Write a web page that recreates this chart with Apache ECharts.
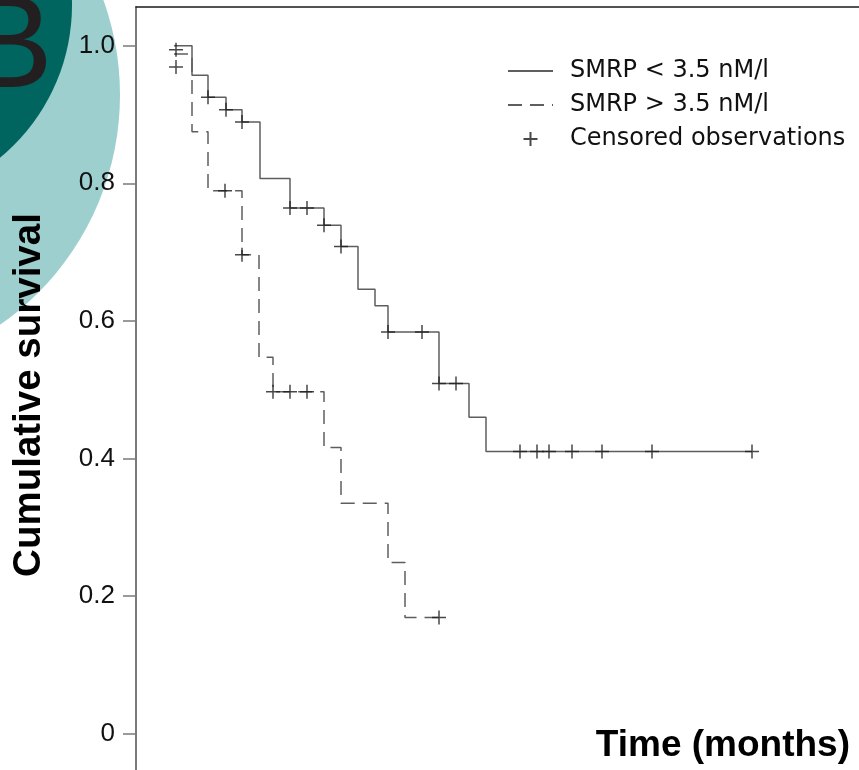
<!DOCTYPE html>
<html>
<head>
<meta charset="utf-8">
<script src="https://cdn.jsdelivr.net/npm/echarts@6/dist/echarts.min.js"></script>
<style>
  html, body { margin: 0; padding: 0; background: #ffffff; }
  #chart { width: 859px; height: 770px; }
</style>
</head>
<body>
<div id="chart"></div>
<script>
// Kaplan-Meier survival estimates by SMRP level (time in months)
const lowTime  = [0, 0.9, 1.7, 2.6, 3.4, 4.3, 5.8, 7.5, 8.35, 9.2, 10.05, 10.7, 13.25, 14.75, 15.6, 28.9];
const lowSurv  = [1.0, 0.957, 0.925, 0.907, 0.889, 0.807, 0.764, 0.739, 0.708, 0.646, 0.622, 0.584, 0.509, 0.46, 0.41, 0.41];

const highTime = [0, 0.9, 1.7, 3.4, 4.25, 4.95, 7.5, 8.35, 10.7, 11.55, 13.25];
const highSurv = [0.988, 0.875, 0.789, 0.696, 0.547, 0.497, 0.416, 0.335, 0.249, 0.169, 0.169];

// Censored observations for each group
const lowCensTime  = [0.1, 0.1, 1.7, 2.6, 3.4, 5.8, 6.65, 7.5, 8.35, 10.7, 12.4, 13.25, 14.1, 17.3, 18.15, 18.75, 19.9, 21.4, 23.9, 28.9];
const lowCensSurv  = [0.994, 0.969, 0.925, 0.907, 0.889, 0.764, 0.764, 0.739, 0.708, 0.584, 0.584, 0.509, 0.509, 0.41, 0.41, 0.41, 0.41, 0.41, 0.41, 0.41];
const highCensTime = [2.55, 3.4, 4.95, 5.8, 6.65, 13.25];
const highCensSurv = [0.789, 0.696, 0.497, 0.497, 0.497, 0.169];

const yTicks = [0, 0.2, 0.4, 0.6, 0.8, 1.0];

const seriesNames = ['SMRP < 3.5 nM/l', 'SMRP > 3.5 nM/l', 'Censored observations'];
const yTitle = 'Cumulative survival';
const xTitle = 'Time (months)';

const zip = (xs, ys) => xs.map((x, i) => [x, ys[i]]);
const censored = zip(lowCensTime, lowCensSurv).concat(zip(highCensTime, highCensSurv));

const crossPath = 'path://M0,7L14,7M7,0L7,14';
const axisGray = '#7a7a7a';
const curveGray = '#5e5e5e';

const chart = echarts.init(document.getElementById('chart'), null, { renderer: 'canvas' });

chart.setOption({
  animation: false,
  backgroundColor: '#ffffff',
  grid: { left: 136, right: 0, top: 7, bottom: 0, containLabel: false },
  graphic: [
    { type: 'circle', z: -20, shape: { cx: -160, cy: 95, r: 280 }, style: { fill: '#9dcfcf' } },
    { type: 'circle', z: -19, shape: { cx: -126, cy: 5, r: 198 }, style: { fill: '#00655f' } },
    { type: 'text', z: -18, left: -35, top: -15,
      style: { text: 'B', font: 'normal 132px "Liberation Sans", Arial, sans-serif', fill: '#231f20' } },
    { type: 'text', right: 9, top: 727,
      style: { text: xTitle, font: 'bold 37px "Liberation Sans", Arial, sans-serif', fill: '#000000' } }
  ],
  legend: {
    orient: 'vertical',
    left: 507,
    top: 56,
    padding: 0,
    itemWidth: 45,
    itemHeight: 14,
    itemGap: 4,
    textStyle: { fontFamily: 'DejaVu Sans', fontSize: 24, color: '#111111', lineHeight: 30, padding: [0, 0, 0, 12] },
    data: [
      { name: seriesNames[0], itemStyle: { opacity: 0 } },
      { name: seriesNames[1], itemStyle: { opacity: 0 } },
      { name: seriesNames[2] }
    ]
  },
  xAxis: {
    type: 'value',
    position: 'top',
    min: -1.9,
    max: 34.25,
    axisLine: { show: true, onZero: false, lineStyle: { color: '#1a1a1a', width: 1.5 } },
    axisTick: { show: false },
    axisLabel: { show: false },
    splitLine: { show: false }
  },
  yAxis: {
    type: 'value',
    min: -0.05276,
    max: 1.05625,
    name: yTitle,
    nameLocation: 'middle',
    nameRotate: 90,
    nameGap: 87,
    nameTextStyle: { fontFamily: '"Liberation Sans", Arial, sans-serif', fontWeight: 'bold', fontSize: 38.5, color: '#000000', padding: [0, 13, 0, 0] },
    axisLine: { show: true, onZero: false, lineStyle: { color: axisGray, width: 2 } },
    axisTick: { show: true, customValues: yTicks, length: 13, lineStyle: { color: axisGray, width: 1.5 } },
    axisLabel: {
      customValues: yTicks,
      margin: 21,
      fontFamily: '"Liberation Sans", Arial, sans-serif',
      fontSize: 26,
      color: '#111111',
      formatter: v => (v === 0 ? '0' : v.toFixed(1))
    },
    splitLine: { show: false }
  },
  series: [
    {
      name: seriesNames[0],
      type: 'line',
      step: 'end',
      symbol: 'none',
      data: zip(lowTime, lowSurv),
      lineStyle: { color: curveGray, width: 1.5, type: 'solid' },
      itemStyle: { color: curveGray },
      z: 3
    },
    {
      name: seriesNames[1],
      type: 'line',
      step: 'end',
      symbol: 'none',
      data: zip(highTime, highSurv),
      lineStyle: { color: curveGray, width: 1.5, type: [14, 8] },
      itemStyle: { color: curveGray },
      z: 3
    },
    {
      name: seriesNames[2],
      type: 'scatter',
      symbol: crossPath,
      symbolSize: 14,
      data: censored,
      itemStyle: { color: 'rgba(0,0,0,0)', borderColor: '#1a1a1a', borderWidth: 1.5 },
      z: 4
    }
  ]
});
</script>
</body>
</html>
